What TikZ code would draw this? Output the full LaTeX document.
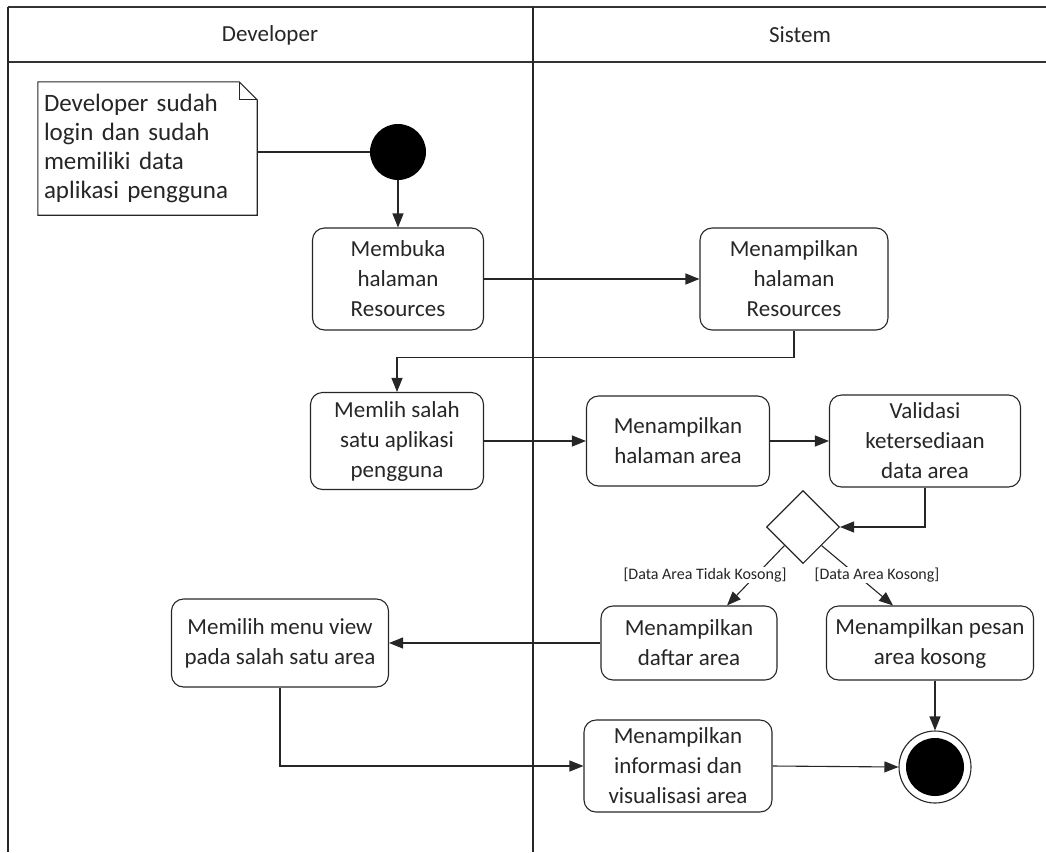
\documentclass[tikz,border=0pt]{standalone}
\usepackage{fontspec}
\setmainfont{Carlito}
\usetikzlibrary{arrows.meta,shapes.geometric,calc}

\begin{document}
\begin{tikzpicture}[x=1pt,y=-1pt,
  ink/.style={draw=black!85, line width=1.1pt},
  act/.style={ink, rounded corners=12pt, align=center, inner sep=0pt,
    text=black!85, font=\fontsize{23}{30}\selectfont},
  flow/.style={ink, -{Triangle[length=14pt,width=11pt]}},
  guard/.style={font=\fontsize{16}{19}\selectfont, text=black!85, fill=white, inner sep=1pt},
  lane/.style={draw=black!80, line width=2pt},
  laneline/.style={draw=black!85, line width=1.1pt}]

\useasboundingbox (0,0) rectangle (1046,852);

% swimlanes
\draw[lane] (8,7) -- (1046,7);
\draw[lane] (8,62) -- (1046,62);
\draw[laneline] (8,7) -- (8,852);
\draw[laneline] (533,7) -- (533,852);
\node[font=\fontsize{23}{27}\selectfont, text=black!85] (hdev) at (270,35) {Developer};
\node[font=\fontsize{23}{27}\selectfont, text=black!85] (hsys) at (800,35) {Sistem};

% note
\node[text width=207pt, inner xsep=6pt, inner ysep=0pt, minimum height=133pt, align=left,
      text=black!85, font=\fontsize{25}{29}\selectfont] (note) at (147.5,148.5)
  {Developer sudah\\login dan sudah\\memiliki data\\aplikasi pengguna};
\draw[ink, line join=miter] (note.north west) -- ([xshift=-18pt]note.north east)
  -- ([yshift=-18pt]note.north east) -- (note.south east) -- (note.south west) -- cycle;
\draw[ink] ([xshift=-18pt]note.north east) |- ([yshift=-18pt]note.north east);

% start / end
\node[circle, fill=black, minimum size=56pt, inner sep=0pt] (start) at (398,152) {};
\node[circle, ink, minimum size=72pt, inner sep=0pt] (end) at (935,767) {};
\node[circle, fill=black, minimum size=58pt, inner sep=0pt] (endcore) at (end) {};

% actions
\node[act, minimum width=171pt, minimum height=102pt] (b1) at (398,279) {Membuka\\halaman\\Resources};
\node[act, minimum width=188pt, minimum height=102pt] (b2) at (794,279) {Menampilkan\\halaman\\Resources};
\node[act, minimum width=173pt, minimum height=97pt] (b3) at (397,441) {Memlih salah\\satu aplikasi\\pengguna};
\node[act, minimum width=183pt, minimum height=90pt] (b4) at (678,441) {Menampilkan\\halaman area};
\node[act, minimum width=191pt, minimum height=92pt] (b5) at (925,441) {Validasi\\ketersediaan\\data area};
\node[diamond, ink, minimum width=73pt, minimum height=73pt, inner sep=0pt] (dec) at (803,527) {};
\node[act, minimum width=176pt, minimum height=74pt] (b6) at (689,643) {Menampilkan\\daftar area};
\node[act, minimum width=207pt, minimum height=74pt] (b7) at (930,643) {Menampilkan pesan\\area kosong};
\node[act, minimum width=217pt, minimum height=88pt] (b8) at (280,643) {Memilih menu view\\pada salah satu area};
\node[act, minimum width=188pt, minimum height=92pt] (b9) at (678,766) {Menampilkan\\informasi dan\\visualisasi area};

% connectors
\draw[ink] (note.east |- start) -- (start.west);
\draw[flow] (start.south) -- (b1.north -| start);
\draw[flow] (b1.east) -- (b2.west);
\draw[flow] (b2.south) -- ++(0,27) -| (b3.north);
\draw[flow] (b3.east) -- (b4.west);
\draw[flow] (b4.east) -- (b5.west);
\draw[flow] (b5.south) |- (dec.east);
\coordinate (t6) at ([xshift=38pt]b6.north);
\coordinate (t7) at ([xshift=-37pt]b7.north);
\draw[flow] (dec.south west) -- (t6);
\draw[flow] (dec.south east) -- (t7);
\node[guard] (g1) at (705,575) {[Data Area Tidak Kosong]};
\node[guard] (g2) at (877,575) {[Data Area Kosong]};
\draw[flow] (b6.west) -- (b8.east);
\draw[flow] (b8.south) |- (b9.west);
\draw[flow] (b9.east) -- (end.west);
\draw[flow] (b7.south -| end) -- (end.north);
\end{tikzpicture}
\end{document}
